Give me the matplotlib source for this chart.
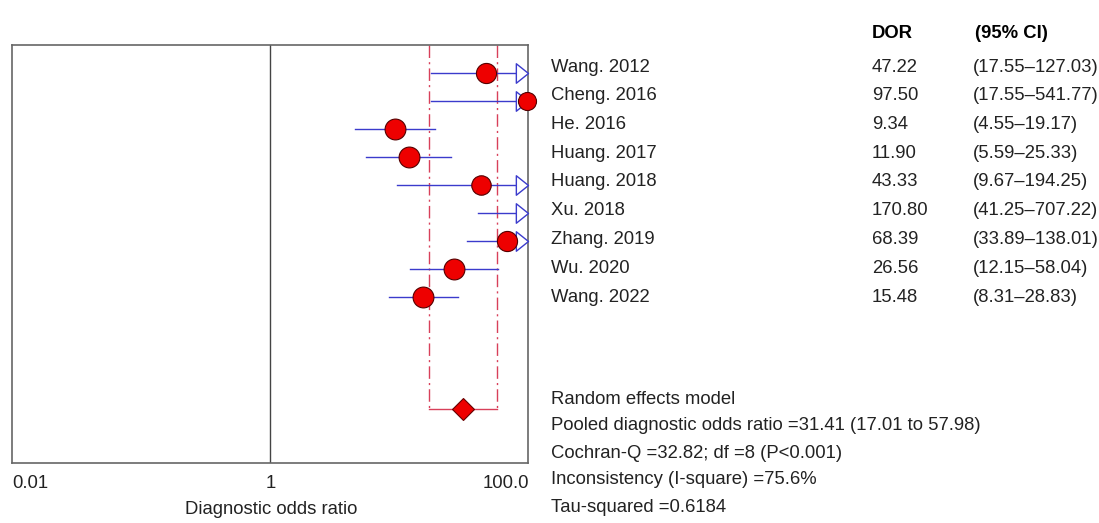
import numpy as np
import matplotlib.pyplot as plt
from matplotlib.path import Path

plt.rcParams['font.family'] = ['Liberation Sans', 'DejaVu Sans']

studies = ["Wang. 2012", "Cheng. 2016", "He. 2016", "Huang. 2017", "Huang. 2018",
           "Xu. 2018", "Zhang. 2019", "Wu. 2020", "Wang. 2022"]
dor = [47.22, 97.50, 9.34, 11.90, 43.33, 170.80, 68.39, 26.56, 15.48]
lo = [17.55, 17.55, 4.55, 5.59, 9.67, 41.25, 33.89, 12.15, 8.31]
hi = [127.03, 541.77, 19.17, 25.33, 194.25, 707.22, 138.01, 58.04, 28.83]
weight = [14.5, 13, 15, 15, 14, 13, 14.5, 15, 15]  # marker size (pt)

pooled = 31.41
pooled_lo = 17.01
pooled_hi = 57.98
stats = ["Random effects model",
         "Pooled diagnostic odds ratio =31.41 (17.01 to 57.98)",
         "Cochran-Q =32.82; df =8 (P<0.001)",
         "Inconsistency (I-square) =75.6%",
         "Tau-squared =0.6184"]

xmin, xmax = 0.01, 100.0
blue = '#3b3bcc'
red = '#ee0000'
cired = '#d8405a'

fig = plt.figure(figsize=(10.99, 5.23), dpi=100)
W, H = 1099, 523
ax = fig.add_axes([12 / W, 1 - 463 / H, (528 - 12) / W, (463 - 45) / H])
ax.set_xscale('log')
ax.set_xlim(xmin, xmax)
ax.set_ylim(13.93, -1)

ypos = np.arange(len(studies))
pool_row = 12

# pooled CI bracket
ax.plot([pooled_lo, pooled_lo], [-1, pool_row], color=cired, lw=1, ls=(0, (9, 3, 1.5, 3)))
ax.plot([pooled_hi, pooled_hi], [-1, pool_row], color=cired, lw=1, ls=(0, (9, 3, 1.5, 3)))
ax.plot([pooled_lo, pooled_hi], [pool_row, pool_row], color=cired, lw=1)

# line of no effect
ax.axvline(1, color='#444444', lw=1)

arrow = Path([(-1, -0.8), (0, 0), (-1, 0.8), (-1, -0.8)],
             [Path.MOVETO, Path.LINETO, Path.LINETO, Path.CLOSEPOLY])

for i in range(len(studies)):
    right = min(hi[i], xmax)
    ax.plot([lo[i], right], [ypos[i], ypos[i]], color=blue, lw=1, zorder=3)
    if hi[i] > xmax:
        ax.plot(xmax, ypos[i], marker=arrow, ms=17.5, mfc='white', mec=blue,
                mew=1, clip_on=False, zorder=4)
    if dor[i] <= xmax * 1.1:
        ax.plot(dor[i], ypos[i], 'o', ms=weight[i], mfc=red, mec='#550000',
                mew=0.8, clip_on=False, zorder=5)

ax.plot(pooled, pool_row, marker='D', ms=11.5, mfc=red, mec='#660000', mew=0.8, zorder=5)

for s in ax.spines.values():
    s.set_color('#666666')
    s.set_linewidth(1.2)
ax.set_yticks([])
ax.set_xticks([])
ax.minorticks_off()
ax.tick_params(which='both', length=0)

# x tick labels
fs = 13.3
tc = '#222222'
fig.text(12 / W, 1 - 483 / H, "0.01", fontsize=fs, ha='left', va='center', color=tc)
fig.text(271 / W, 1 - 483 / H, "1", fontsize=fs, ha='center', va='center', color=tc)
fig.text(529 / W, 1 - 483 / H, "100.0", fontsize=fs, ha='right', va='center', color=tc)
fig.text(271 / W, 1 - 510 / H, "Diagnostic odds ratio", fontsize=fs, ha='center',
         va='center', color=tc)

# table
fig.text(872 / W, 1 - 33 / H, "DOR", fontsize=fs, fontweight='bold', ha='left', va='center')
fig.text(975 / W, 1 - 33 / H, "(95% CI)", fontsize=fs, fontweight='bold', ha='left', va='center')
for i in range(len(studies)):
    yy = 1 - (67 + 28.75 * i) / H
    fig.text(551 / W, yy, studies[i], fontsize=fs, ha='left', va='center', color=tc)
    fig.text(872 / W, yy, f"{dor[i]:.2f}", fontsize=fs, ha='left', va='center', color=tc)
    fig.text(973 / W, yy, f"({lo[i]:.2f}\u2013{hi[i]:.2f})", fontsize=fs, ha='left',
             va='center', color=tc)

for k, line in enumerate(stats):
    fig.text(551 / W, 1 - (399 + 27 * k) / H, line, fontsize=fs, ha='left', va='center',
             color=tc)

fig.savefig('out.png', dpi=100)
